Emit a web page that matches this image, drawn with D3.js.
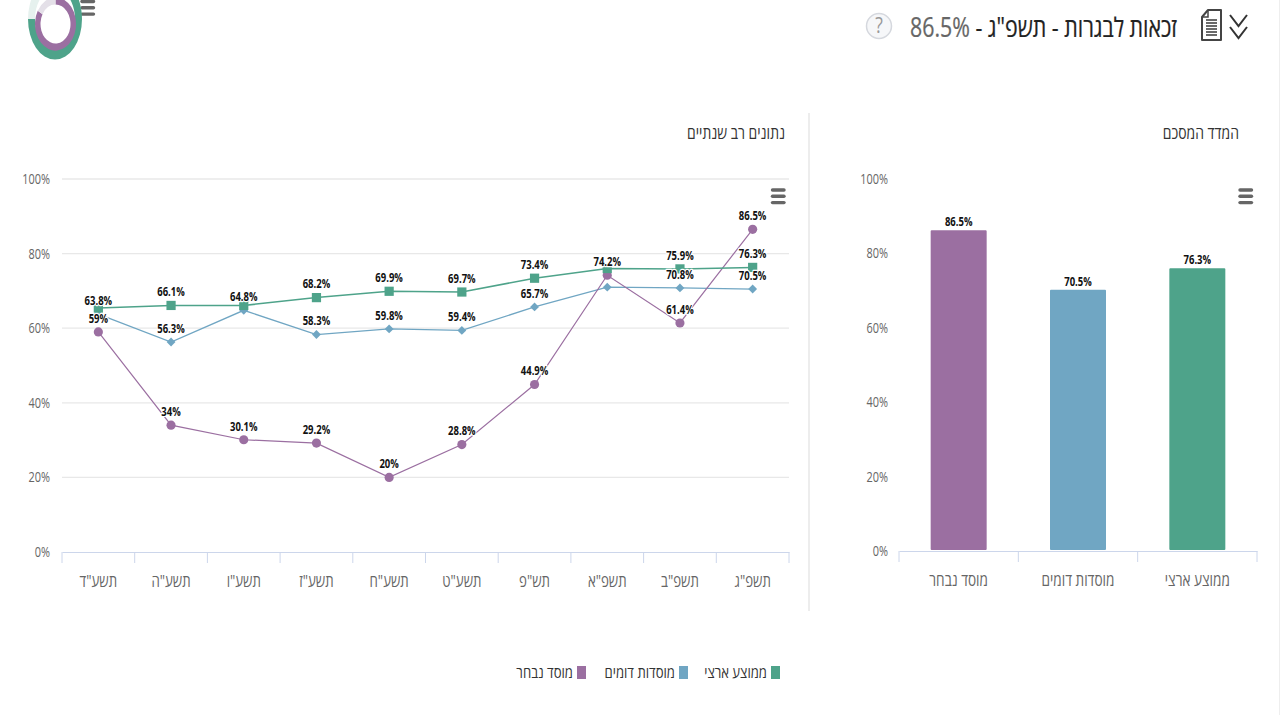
<!DOCTYPE html>
<html lang="he"><head><meta charset="utf-8">
<style>html,body{margin:0;padding:0;background:#fff;overflow:hidden}svg{display:block}text{font-family:"Open Sans","Liberation Sans",sans-serif}</style>
<script src="https://cdn.jsdelivr.net/npm/d3@7"></script></head><body>
<svg id="c" width="1280" height="715"></svg>
<script>
const years=['תשע"ד','תשע"ה','תשע"ו','תשע"ז','תשע"ח','תשע"ט','תש"פ','תשפ"א','תשפ"ב','תשפ"ג'];
const purpleValues=[59,34,30.1,29.2,20,28.8,44.9,74.2,61.4,86.5];
const blueValues=[63.8,56.3,64.8,58.3,59.8,59.4,65.7,71,70.8,70.5];
const greenValues=[65.4,66.1,66.1,68.2,69.9,69.7,73.4,76,75.9,76.3];
const blueHiddenLabels=[false,false,false,false,false,false,false,true,false,false];
const greenHiddenLabels=[true,false,true,false,false,false,false,true,false,false];
const barCategories=['מוסד נבחר','מוסדות דומים','ממוצע ארצי'];
const barValues=[86.5,70.5,76.3];
const barColors=['#9b6fa1','#70a6c3','#4ea38a'];
const yTicks=[0,20,40,60,80,100];
const legendNames=['ממוצע ארצי','מוסדות דומים','מוסד נבחר'];
const legendColors=['#4ea38a','#70a6c3','#9b6fa1'];
const headline='זכאות לבגרות - תשפ"ג';
const headlineValue='86.5%';

const svg=d3.select('#c');
const GRID='#e8e8e8',AXIS='#ccd6eb',LABEL='#666';

/* squeeze text horizontally around its own anchor: the reference uses a condensed face */
function condense(sel,s){
  sel.each(function(){
    const t=d3.select(this),x=+t.attr('x')||0;
    t.attr('transform',`translate(${x*(1-s)},0) scale(${s},1)`);
  });
}
function yAxis(g,y,dx){
  g.call(d3.axisLeft(y).tickValues(yTicks).tickSize(0).tickFormat(d=>d+'%'));
  g.select('.domain').remove();
  g.selectAll('text').attr('fill',LABEL).style('font-size','14px').attr('x',dx).call(condense,0.78);
}
function catAxis(g,x,s){
  g.call(d3.axisBottom(x).tickSize(0).tickPadding(20));
  g.select('.domain').attr('stroke',AXIS).attr('stroke-width',1.2);
  g.selectAll('text').attr('fill',LABEL).style('font-size','17px').attr('y',29.5).attr('dy','0.32em').call(condense,s);
  const d=x.domain(),edges=d.map(v=>x(v)).concat(x(d[d.length-1])+x.bandwidth());
  g.selectAll('line.b').data(edges).join('line').attr('class','b').attr('x1',v=>v).attr('x2',v=>v).attr('y1',0).attr('y2',11).attr('stroke',AXIS);
}
function menu(x,y){
  svg.append('g').attr('transform',`translate(${x},${y})`).selectAll('line').data([0,6.3,12.6]).join('line')
   .attr('x1',1.5).attr('x2',13).attr('y1',d=>d).attr('y2',d=>d).attr('stroke','#666').attr('stroke-width',3.4).attr('stroke-linecap','round');
}
function dataLabel(g,x,y,t){
  g.append('text').attr('x',x).attr('y',y).attr('text-anchor','middle').attr('dominant-baseline','middle')
   .attr('fill','#111').attr('stroke','#fff').attr('stroke-width',2.5).attr('paint-order','stroke').attr('stroke-linejoin','round')
   .style('font-size','12.5px').style('font-weight','700').text(t).call(condense,0.76);
}
/* ---- line chart ---- */
const xL=d3.scaleBand().domain(years).range([62,789]);
const yL=d3.scaleLinear().domain([0,100]).range([552,179]);
svg.append('g').selectAll('line').data(yTicks.filter(d=>d>0)).join('line')
  .attr('x1',62).attr('x2',789).attr('y1',d=>yL(d)).attr('y2',d=>yL(d)).attr('stroke',GRID).attr('stroke-width',1.3);
svg.append('g').attr('transform','translate(62,0)').call(yAxis,yL,-12);
svg.append('g').attr('transform','translate(0,552)').call(catAxis,xL,0.78);
const cx=i=>xL(years[i])+xL.bandwidth()/2;
const line=d3.line().x((d,i)=>cx(i)).y(d=>yL(d));
const series=[
 {v:blueValues,c:'#70a6c3',s:d3.symbolDiamond2,size:50,hide:blueHiddenLabels,w:1.3},
 {v:purpleValues,c:'#9b6fa1',s:d3.symbolCircle,size:66,hide:null,w:1.2},
 {v:greenValues,c:'#4ea38a',s:d3.symbolSquare,size:85,hide:greenHiddenLabels,w:1.5}
];
series.forEach(s=>{
  svg.append('path').attr('d',line(s.v)).attr('fill','none').attr('stroke',s.c).attr('stroke-width',s.w);
  svg.append('g').selectAll('path').data(s.v).join('path')
    .attr('d',d3.symbol().type(s.s).size(s.size)).attr('fill',s.c)
    .attr('transform',(d,i)=>`translate(${cx(i)},${yL(d)})`);
});
const lg=svg.append('g');
series.forEach(s=>s.v.forEach((d,i)=>{ if(!(s.hide&&s.hide[i])) dataLabel(lg,cx(i),yL(d)-12.5,d+'%'); }));

/* ---- bar chart ---- */
const xB=d3.scaleBand().domain(barCategories).range([899,1257]);
const yB=d3.scaleLinear().domain([0,100]).range([551,179]);
svg.append('g').attr('transform','translate(899,0)').call(yAxis,yB,-11);
svg.selectAll('rect.bar').data(barValues).join('rect').attr('class','bar')
  .attr('x',(d,i)=>xB(barCategories[i])+xB.bandwidth()/2-29).attr('width',58)
  .attr('y',d=>yB(d)).attr('height',d=>yB(0)-yB(d)).attr('rx',2).attr('fill',(d,i)=>barColors[i]).attr('stroke','#fff').attr('stroke-width',2);
svg.append('g').attr('transform','translate(0,551)').call(catAxis,xB,0.8);
const lb=svg.append('g');
barValues.forEach((d,i)=>dataLabel(lb,xB(barCategories[i])+xB.bandwidth()/2,yB(d)-6.5,d+'%'));

/* ---- titles, divider ---- */
svg.append('line').attr('x1',809).attr('x2',809).attr('y1',113).attr('y2',611).attr('stroke','#e4e4e4').attr('stroke-width',1.3);
svg.append('line').attr('x1',1279.5).attr('x2',1279.5).attr('y1',0).attr('y2',715).attr('stroke','#eee');
[[785,'נתונים רב שנתיים'],[1239,'המדד המסכם']].forEach(([x,t])=>{
  svg.append('text').attr('x',x).attr('y',134).attr('dominant-baseline','middle').attr('fill','#333').style('font-size','17px').style('direction','rtl').text(t).call(condense,0.82);
});
menu(771,190);menu(1238.5,190);menu(80.5,1.5);

/* ---- header ---- */
const h=svg.append('text').attr('x',1177).attr('y',29).attr('dominant-baseline','middle').style('direction','rtl').style('font-size','27px').attr('fill','#222').attr('stroke','#222').attr('stroke-width',0.25);
h.append('tspan').text(headline+' - ');
h.append('tspan').attr('fill','#666').attr('stroke','#666').text(headlineValue);
h.call(condense,0.79);
svg.append('circle').attr('cx',879).attr('cy',26).attr('r',12.5).attr('fill','#f6f7f9').attr('stroke','#d5d8de').attr('stroke-width',1.5);
svg.append('text').attr('x',879).attr('y',27).attr('text-anchor','middle').attr('dominant-baseline','middle').attr('fill','#999').style('font-size','22px').text('?').call(condense,0.8);
const doc=svg.append('g').attr('transform','translate(1202,10)');
doc.append('path').attr('d','M6 0H19V30H0V7Z').attr('fill','#fff').attr('stroke','#444').attr('stroke-width',2).attr('stroke-linejoin','round');
doc.append('path').attr('d','M6 0V7H0').attr('fill','none').attr('stroke','#444').attr('stroke-width',1.5);
doc.selectAll('line').data([10,13,16,19,22,25]).join('line').attr('x1',4).attr('x2',15).attr('y1',d=>d).attr('y2',d=>d).attr('stroke','#444').attr('stroke-width',1.6);
svg.append('path').attr('d','M1230 15L1238.5 26L1247 15M1230 27L1238.5 38L1247 27').attr('fill','none').attr('stroke','#333').attr('stroke-width',2);

/* ---- legend ---- */
[[771,767],[679,675],[577,573]].forEach(([sx,tx],i)=>{
  svg.append('rect').attr('x',sx).attr('y',666).attr('width',9).attr('height',13).attr('fill',legendColors[i]);
  svg.append('text').attr('x',tx).attr('y',674).attr('dominant-baseline','middle').style('direction','rtl').attr('fill','#333').style('font-size','16px').text(legendNames[i]).call(condense,0.82);
});

/* ---- logo ---- */
const arc=d3.arc();
const logo=(cx,cy,sy,inner,outer,a0,a1,c)=>svg.append('path').attr('transform',`translate(${cx},${cy}) scale(1,${sy})`)
  .attr('d',arc({innerRadius:inner,outerRadius:outer,startAngle:a0,endAngle:a1})).attr('fill',c);
const P=Math.PI;
logo(55,19,1.5,20,27,P/2,3*P/2,'#4ea38a');
logo(55,19,1.5,20,27,-P/2,-0.15,'#e6f1ee');
logo(55,19,1.5,20,27,0.4,P/2,'#4ea38a');
logo(55.5,24,1.3,15,20.5,0,5*P/3,'#9b6fa1');
logo(55.5,24,1.3,15,20.5,5*P/3,2*P,'#e4e0e8');
</script></body></html>
